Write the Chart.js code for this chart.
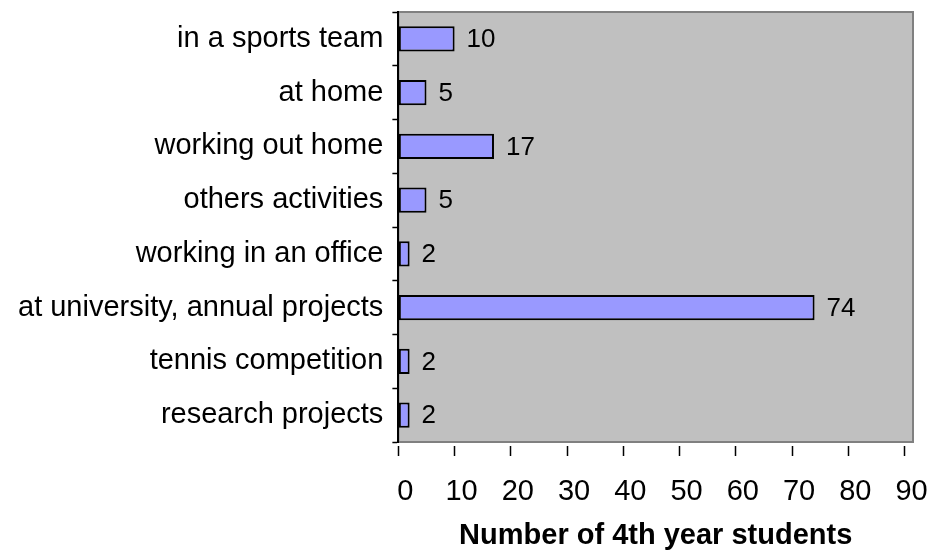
<!DOCTYPE html>
<html>
<head>
<meta charset="utf-8">
<title>4th year students</title>
<script src="https://cdn.jsdelivr.net/npm/chart.js@4/dist/chart.umd.min.js"></script>
<style>
  html, body { margin: 0; padding: 0; background: #fff; }
  #wrap { width: 929px; height: 550px; }
</style>
</head>
<body>
<div id="wrap"><canvas id="chart" width="929" height="550"></canvas></div>
<script>
  /* ── Data ─────────────────────────────────────────────────────── */

  var categories = [
    'in a sports team',
    'at home',
    'working out home',
    'others activities',
    'working in an office',
    'at university, annual projects',
    'tennis competition',
    'research projects'
  ];
  var students = [10, 5, 17, 5, 2, 74, 2, 2];
  var xTickStep = 10;
  var xMax = 91.5;
  var xTitle = 'Number of 4th year students';

  /* ── Style ────────────────────────────────────────────────────── */

  var FONT = "'Liberation Sans', Arial, Helvetica, sans-serif";
  var PLOT_BG = '#C0C0C0';
  var PLOT_EDGE = '#808080';
  var BAR_FILL = '#9999FF';

  /* plot background + grey frame */
  var plotFrame = {
    id: 'plotFrame',
    beforeDraw: function (chart) {
      var a = chart.chartArea, ctx = chart.ctx;
      ctx.save();
      ctx.fillStyle = PLOT_BG;
      ctx.fillRect(a.left, a.top, a.right - a.left, a.bottom - a.top);
      ctx.strokeStyle = PLOT_EDGE;
      ctx.lineWidth = 2;
      ctx.strokeRect(a.left, a.top, a.right - a.left, a.bottom - a.top);
      ctx.restore();
    }
  };

  /* number printed right of each bar */
  var valueLabels = {
    id: 'valueLabels',
    afterDatasetsDraw: function (chart) {
      var ctx = chart.ctx;
      var meta = chart.getDatasetMeta(0);
      ctx.save();
      ctx.font = '26px ' + FONT;
      ctx.fillStyle = '#000';
      ctx.textAlign = 'left';
      ctx.textBaseline = 'middle';
      meta.data.forEach(function (bar, i) {
        ctx.fillText(String(students[i]), bar.x + 12, bar.y + 1);
      });
      ctx.restore();
    }
  };

  /* the layout padding alone decides the plot edges */
  function noLabelOverhang(scale) {
    scale.paddingTop = 0;
    scale.paddingBottom = 0;
    scale.paddingLeft = 0;
    scale.paddingRight = 0;
  }

  new Chart(document.getElementById('chart'), {
    type: 'bar',
    data: {
      labels: categories,
      datasets: [{
        data: students,
        backgroundColor: BAR_FILL,
        borderColor: '#000',
        borderWidth: 2,
        borderSkipped: false,
        barPercentage: 0.47,
        categoryPercentage: 1
      }]
    },
    options: {
      indexAxis: 'y',
      responsive: false,
      animation: false,
      layout: { padding: { left: 9, right: 16, top: 12, bottom: 0 } },
      plugins: {
        legend: { display: false },
        tooltip: { enabled: false }
      },
      scales: {
        y: {
          offset: true,
          afterFit: noLabelOverhang,
          border: { display: true, color: '#000', width: 2 },
          grid: {
            offset: true,
            drawOnChartArea: false,
            drawTicks: true,
            tickLength: 6,
            tickColor: '#000',
            tickWidth: 1.5
          },
          ticks: {
            color: '#000',
            padding: 9,
            autoSkip: false,
            font: { family: FONT, size: 29, lineHeight: 1 }
          }
        },
        x: {
          min: 0,
          max: xMax,
          afterFit: noLabelOverhang,
          border: { display: false },
          grid: {
            drawOnChartArea: false,
            drawTicks: true,
            tickLength: 14,
            tickColor: '#000',
            tickWidth: 1.5,
            tickBorderDash: [0, 4, 10, 100]
          },
          ticks: {
            stepSize: xTickStep,
            includeBounds: false,
            autoSkip: false,
            maxRotation: 0,
            labelOffset: 7,
            color: '#000',
            padding: 21,
            font: { family: FONT, size: 29, lineHeight: 1 }
          },
          title: {
            display: true,
            text: xTitle,
            color: '#000',
            padding: { top: -6, bottom: 0 },
            font: { family: FONT, size: 29, weight: 'bold', lineHeight: 1 }
          }
        }
      }
    },
    plugins: [plotFrame, valueLabels]
  });
</script>
</body>
</html>
